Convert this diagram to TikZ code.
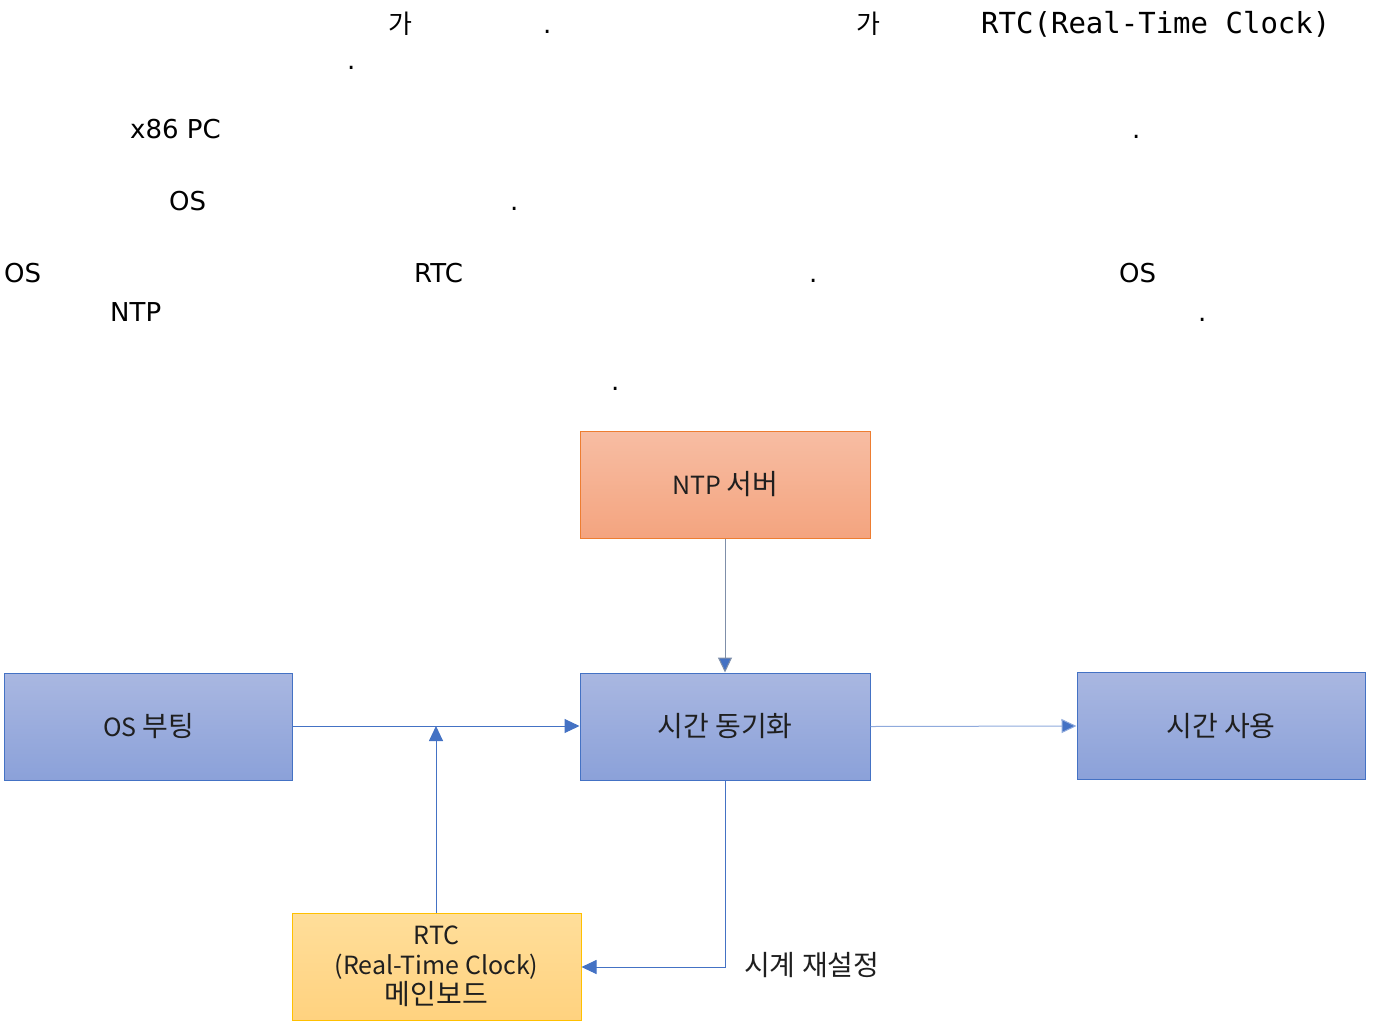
\documentclass[tikz,border=0pt]{standalone}
\usepackage{fontspec}
\setmainfont{DejaVu Sans}
\newfontfamily\kr{Noto Sans CJK KR}
\newfontfamily\dvmono{DejaVu Sans Mono}
\newcommand{\K}[1]{{\fontsize{28}{30}\selectfont #1}}
\usetikzlibrary{arrows.meta}
\definecolor{bluefillT}{HTML}{A9B7E1}
\definecolor{bluefillB}{HTML}{8BA1D9}
\definecolor{blueline}{HTML}{4472C4}
\definecolor{orangeT}{HTML}{F7BDA3}
\definecolor{orangeB}{HTML}{F4A47F}
\definecolor{orangeline}{HTML}{ED7D31}
\definecolor{yellowT}{HTML}{FFDE9A}
\definecolor{yellowB}{HTML}{FFD27F}
\definecolor{yellowline}{HTML}{FFC000}
\definecolor{grayline}{HTML}{7F8FA9}
\definecolor{lightline}{HTML}{8FAADC}
\begin{document}
\begin{tikzpicture}[x=1pt,y=-1pt,
  txt/.style={anchor=base west,inner sep=0pt,font=\fontsize{26}{30}\selectfont},
  krtxt/.style={anchor=base west,inner sep=0pt,font=\kr\fontsize{26}{30}\selectfont},
  monotxt/.style={anchor=base west,inner sep=0pt,font=\dvmono\fontsize{29}{32}\selectfont},
  boxbase/.style={draw,line width=1pt,minimum width=288pt,minimum height=107pt,inner sep=0pt,align=center,font=\kr\fontsize{25}{30}\selectfont,text=black!88},
  bluebox/.style={boxbase,draw=blueline,top color=bluefillT,bottom color=bluefillB},
  orangebox/.style={boxbase,draw=orangeline,top color=orangeT,bottom color=orangeB},
  yellowbox/.style={boxbase,draw=yellowline,top color=yellowT,bottom color=yellowB},
  conn/.style={line width=1pt,draw=blueline,-{Triangle[length=15pt,width=14pt,fill=blueline]}}
]
\useasboundingbox (0,0) rectangle (1379,1021);
% top text fragments
\node[krtxt] (t1) at (388,33) {가};
\node[txt] (t2) at (543,33) {.};
\node[krtxt] (t3) at (856,33) {가};
\node[monotxt] (t4) at (981,33) {RTC(Real-Time Clock)};
\node[txt] (t5) at (347,69) {.};
\node[txt] (t6) at (130,138) {x86 PC};
\node[txt] (t7) at (1132,138) {.};
\node[txt] (t8) at (169,210) {OS};
\node[txt] (t9) at (510,210) {.};
\node[txt] (t10) at (4,282) {OS};
\node[txt] (t11) at (414,282) {RTC};
\node[txt] (t12) at (809,282) {.};
\node[txt] (t13) at (1119,282) {OS};
\node[txt] (t14) at (110,321) {NTP};
\node[txt] (t15) at (1198,321) {.};
\node[txt] (t16) at (611,390) {.};
% boxes
\node[orangebox,minimum width=290pt] (ntp) at (725,484.5) {NTP \K{서버}};
\node[bluebox] (os) at (148.5,726.5) {OS \K{부팅}};
\node[bluebox,minimum width=290pt] (sync) at (725,726.5) {\K{시간 동기화}};
\node[bluebox] (use) at (1221,726) {\K{시간 사용}};
\node[yellowbox,minimum width=289pt] (rtc) at (436.5,966.5) {RTC\\(Real-Time Clock)\\\K{메인보드}};
% connectors
\coordinate (j) at (436,726);
\coordinate (k) at (725,967);
\draw[conn,draw=grayline] (ntp.south) -- (sync.north);
\draw[conn] (os.east |- j) -- (sync.west |- j);
\draw[conn] (rtc.north -| j) -- (j);
\draw[conn,draw=lightline] (sync.east) -- (use.west);
\draw[conn] (sync.south) -- (k) -- (rtc.east |- k);
\node[anchor=west,inner sep=0pt,font=\kr\fontsize{28}{30}\selectfont,text=black!88] (lbl) at (744,965) {시계 재설정};
\end{tikzpicture}
\end{document}
